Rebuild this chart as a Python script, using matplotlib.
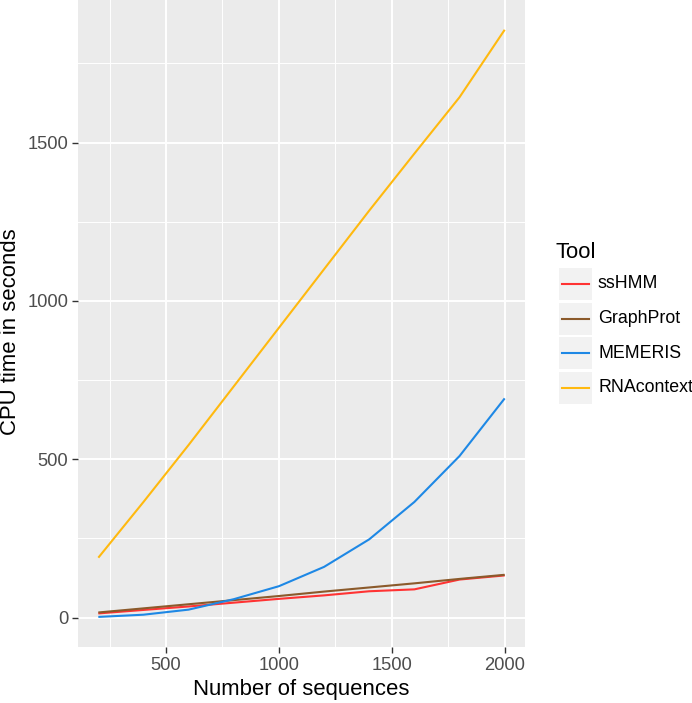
import matplotlib
matplotlib.use("Agg")
import matplotlib.pyplot as plt
from matplotlib.patches import Rectangle
from matplotlib.lines import Line2D
from matplotlib.ticker import MultipleLocator

plt.rcParams['font.family'] = ['Liberation Sans', 'DejaVu Sans']

# data
n_seq = [200, 400, 600, 800, 1000, 1200, 1400, 1600, 1800, 2000]
sshmm = [13, 24, 35, 47, 59, 70, 83, 89, 120, 133]
graphprot = [16, 29, 42, 55, 68, 82, 95, 108, 122, 135]
memeris = [2, 9, 25, 58, 99, 160, 247, 365, 510, 692]
rnacontext = [189, 365, 545, 730, 915, 1100, 1285, 1465, 1643, 1856]

tools = ['ssHMM', 'GraphProt', 'MEMERIS', 'RNAcontext']
series = [sshmm, graphprot, memeris, rnacontext]
colors = ['#FF3333', '#8B5A2B', '#1E88E5', '#FFB90F']

W, H = 692, 703
fig = plt.figure(figsize=(W / 100, H / 100), dpi=100)
ax = fig.add_axes([78 / W, 1 - 647 / H, 447 / W, 647 / H])
ax.set_facecolor('#EBEBEB')

for vals, c in zip(series, colors):
    ax.plot(n_seq, vals, color=c, lw=1.5, solid_capstyle='butt', zorder=3)

ax.set_xlim(110, 2090)
ax.set_ylim(-93, 1950)
ax.xaxis.set_major_locator(MultipleLocator(500))
ax.xaxis.set_minor_locator(MultipleLocator(250))
ax.yaxis.set_major_locator(MultipleLocator(500))
ax.yaxis.set_minor_locator(MultipleLocator(250))
ax.grid(which='major', color='white', lw=1.4, zorder=1)
ax.grid(which='minor', color='white', lw=0.7, zorder=1)
ax.set_axisbelow(True)
for s in ax.spines.values():
    s.set_visible(False)

ax.tick_params(which='major', length=4, width=1, color='#333333',
               labelcolor='#4D4D4D', labelsize=13.2, pad=3)
ax.tick_params(which='minor', length=0)
ax.set_xticks([500, 1000, 1500, 2000])
ax.set_yticks([0, 500, 1000, 1500])

ax.set_xlabel('Number of sequences', fontsize=15.9, color='black', labelpad=4)
ax.set_ylabel('CPU time in seconds', fontsize=15.9, color='black')
ax.yaxis.set_label_coords(-57 / 447, 0.5 - 8 / 647)

# legend drawn ggplot-style
fig.text(556 / W, 1 - 258 / H, 'Tool', fontsize=15.9, ha='left', va='baseline')
row_top = [268, 303, 337, 372]
for top, name, c in zip(row_top, tools, colors):
    fig.patches.append(Rectangle((559 / W, 1 - (top + 32) / H), 33 / W, 32 / H,
                                 transform=fig.transFigure, facecolor='#F2F2F2',
                                 edgecolor='none'))
    ymid = 1 - (top + 16) / H
    fig.lines.append(Line2D([562 / W, 589 / W], [ymid, ymid], transform=fig.transFigure,
                            color=c, lw=1.5))
    fig.text(598 / W, ymid, name, fontsize=12.8, ha='left', va='center')

fig.savefig('out.png', dpi=100)
